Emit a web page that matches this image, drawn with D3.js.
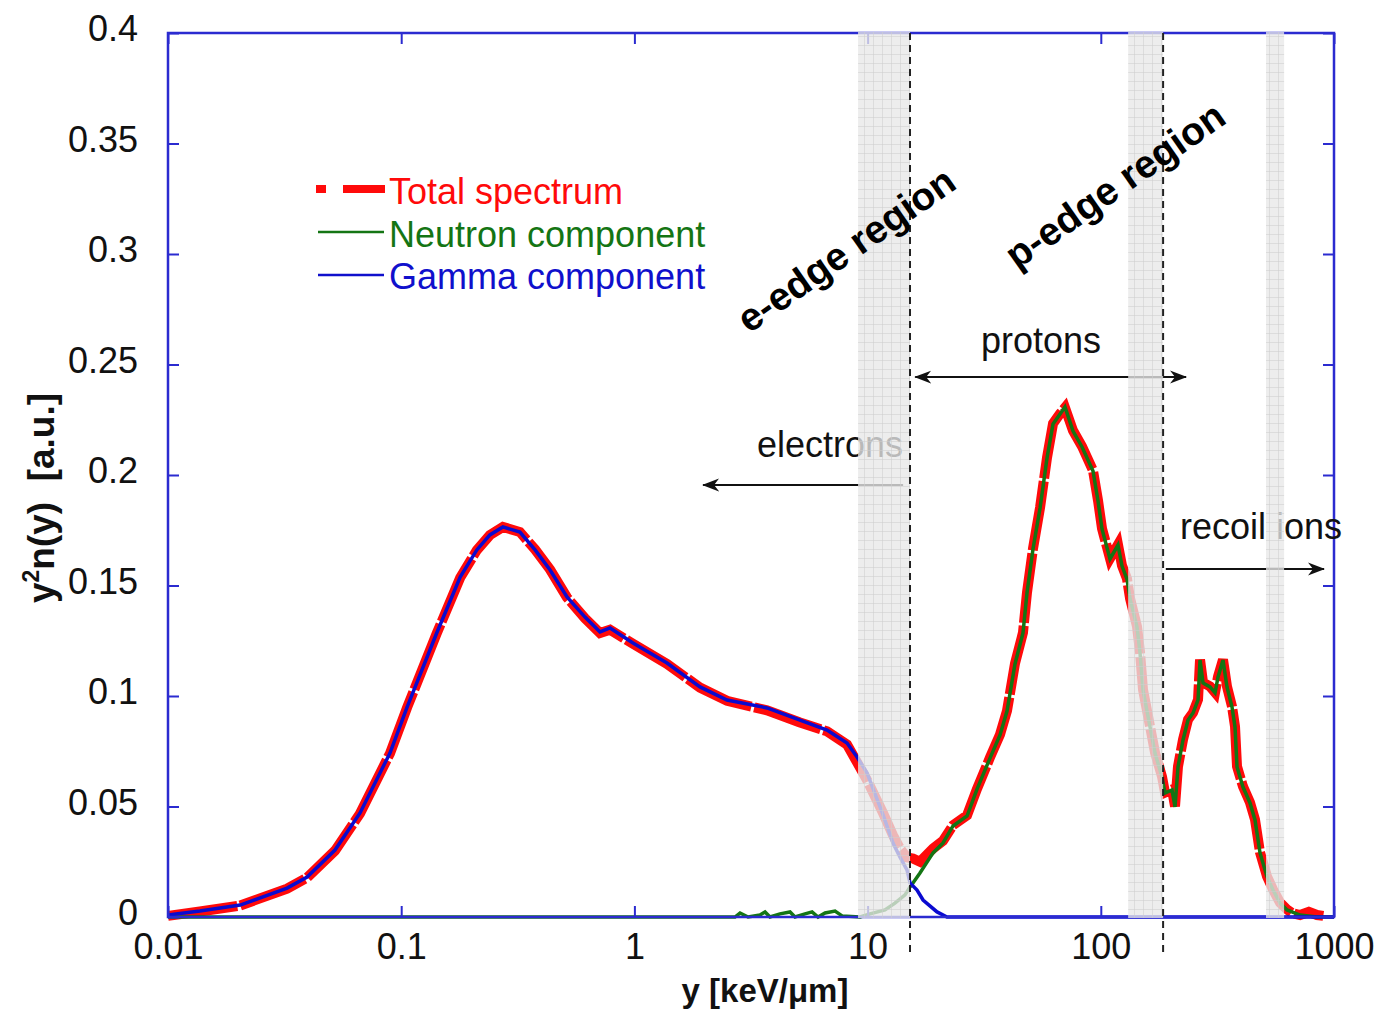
<!DOCTYPE html>
<html>
<head>
<meta charset="utf-8">
<script src="https://cdn.jsdelivr.net/npm/d3@7"></script>
<style>
  body { margin: 0; background: #ffffff; }
  svg { display: block; }
  text { font-family: "Liberation Sans", Arial, sans-serif; }
</style>
</head>
<body>
<svg id="chart" width="1379" height="1010"></svg>
<script>
// ---- axis ticks ----
const xTickValues = [0.01, 0.1, 1, 10, 100, 1000];
const xTickLabels = ["0.01", "0.1", "1", "10", "100", "1000"];
const yTickValues = [0, 0.05, 0.1, 0.15, 0.2, 0.25, 0.3, 0.35, 0.4];
const yTickLabels = ["0", "0.05", "0.1", "0.15", "0.2", "0.25", "0.3", "0.35", "0.4"];

// ---- gamma component: y [keV/um], y^2 n(y) ----
const gammaX = [0.01, 0.0137, 0.0204, 0.0324, 0.0395, 0.052, 0.0666, 0.0895, 0.106, 0.142,
  0.179, 0.211, 0.240, 0.273, 0.323, 0.375, 0.435, 0.514, 0.614, 0.712,
  0.786, 0.986, 1.38, 1.911, 2.496, 3.703, 5.13, 6.70, 8.16, 9.01,
  9.94, 11.65, 12.85, 13.77, 14.75, 15.20, 16.29, 17.29, 19.85, 21.9, 1000];
const gammaY = [0.0009, 0.0027, 0.0054, 0.0131, 0.0181, 0.0303, 0.0471, 0.0742, 0.0950, 0.1285,
  0.1538, 0.1661, 0.1729, 0.1765, 0.1742, 0.1661, 0.1570, 0.1448, 0.1357, 0.1290,
  0.1308, 0.1240, 0.1149, 0.1041, 0.0982, 0.0946, 0.0891, 0.0846, 0.0787, 0.0724,
  0.0652, 0.0462, 0.0335, 0.0271, 0.0213, 0.0154, 0.0122, 0.0077, 0.0023, 0, 0];

// ---- neutron component ----
const neutronX = [0.01, 2.70, 2.838, 3.071, 3.456, 3.632, 3.815, 4.21, 4.65, 4.884,
  5.39, 5.78, 6.13, 6.57, 7.25, 7.77, 9.28, 10.24, 11.87, 13.10,
  14.47, 15.20, 15.65, 16.77, 19.08, 21.06, 23.24, 26.70, 29.46, 33.49,
  36.97, 39.62, 42.86, 46.38, 48.25, 51.2, 54.9, 58.8, 62.4, 66.9,
  70.2, 76.0, 83.1, 92.6, 97.3, 101.2, 109.5, 118.5, 123.3, 129.5,
  133.5, 143.0, 147.3, 151.7, 162.6, 170.8, 183.0, 188.5, 202.0, 208.1,
  214.3, 225.2, 236.6, 248.6, 261.2, 266.4, 274.4, 294.0, 309.0, 318.2,
  334.2, 347.6, 365.3, 376.3, 383.8, 407.2, 436.3, 458.4, 481.7, 516.3,
  547.8, 587.0, 629.0, 715.0, 845.6, 1000];
const neutronY = [0, 0, 0.0018, 0, 0.0009, 0.0023, 0, 0.0014, 0.0023, 0,
  0.0014, 0.0023, 0, 0.0018, 0.0027, 0.0005, 0, 0.0014, 0.0032, 0.0063,
  0.0100, 0.0136, 0.0154, 0.0199, 0.0290, 0.0335, 0.0412, 0.0457, 0.0579, 0.0719,
  0.0824, 0.0932, 0.1145, 0.1285, 0.1466, 0.1665, 0.1851, 0.2077, 0.2231, 0.2276,
  0.2308, 0.2199, 0.2127, 0.2018, 0.1882, 0.1756, 0.1620, 0.1683, 0.1588, 0.1529,
  0.1439, 0.1312, 0.1195, 0.1027, 0.0860, 0.0742, 0.0633, 0.0561, 0.0575, 0.0498,
  0.0679, 0.0801, 0.0891, 0.0923, 0.0982, 0.1163, 0.1059, 0.1041, 0.1014, 0.1086,
  0.1163, 0.1041, 0.0950, 0.0860, 0.0679, 0.0588, 0.0516, 0.0439, 0.0290, 0.0181,
  0.0122, 0.0063, 0.0032, 0.0009, 0, 0];

// ---- total spectrum ----
const totalX = [0.01, 0.0137, 0.0204, 0.0324, 0.0395, 0.052, 0.0666, 0.0895, 0.106, 0.142,
  0.179, 0.211, 0.240, 0.273, 0.323, 0.375, 0.435, 0.514, 0.614, 0.712,
  0.786, 0.986, 1.38, 1.911, 2.496, 3.703, 5.13, 6.70, 8.16, 9.01,
  9.94, 11.65, 12.85, 13.77, 14.75, 15.65, 16.77, 19.08, 21.06, 23.24,
  26.70, 29.46, 33.49, 36.97, 39.62, 42.86, 46.38, 48.25, 51.2, 54.9,
  58.8, 62.4, 66.9, 70.2, 76.0, 83.1, 92.6, 97.3, 101.2, 109.5,
  118.5, 123.3, 129.5, 133.5, 143.0, 147.3, 151.7, 162.6, 170.8, 183.0,
  188.5, 202.0, 208.1, 214.3, 225.2, 236.6, 248.6, 261.2, 266.4, 274.4,
  294.0, 309.0, 318.2, 334.2, 347.6, 365.3, 376.3, 383.8, 407.2, 436.3,
  458.4, 481.7, 516.3, 547.8, 587.0, 629.0, 660.0, 715.0, 780.0, 845.6, 900.0];
const totalY = [0.0005, 0.0025, 0.0052, 0.0128, 0.0178, 0.0300, 0.0468, 0.0740, 0.0948, 0.1283,
  0.1535, 0.1660, 0.1728, 0.1765, 0.1742, 0.1663, 0.1572, 0.1446, 0.1352, 0.1285,
  0.1300, 0.1236, 0.1145, 0.1038, 0.0978, 0.0935, 0.0880, 0.0840, 0.0780, 0.0700,
  0.0620, 0.0470, 0.0370, 0.0310, 0.0270, 0.0265, 0.0250, 0.0310, 0.0345, 0.0415,
  0.0460, 0.0580, 0.0722, 0.0826, 0.0934, 0.1147, 0.1287, 0.1468, 0.1667, 0.1853,
  0.2079, 0.2233, 0.2278, 0.2305, 0.2201, 0.2129, 0.2020, 0.1884, 0.1758, 0.1622,
  0.1685, 0.1590, 0.1531, 0.1441, 0.1314, 0.1197, 0.1029, 0.0862, 0.0744, 0.0635,
  0.0563, 0.0577, 0.0500, 0.0681, 0.0803, 0.0893, 0.0925, 0.0984, 0.1165, 0.1061,
  0.1043, 0.1016, 0.1088, 0.1165, 0.1043, 0.0952, 0.0862, 0.0681, 0.0590, 0.0518,
  0.0441, 0.0292, 0.0183, 0.0124, 0.0065, 0.0034, 0.0018, 0.0009, 0.0023, 0.0009, 0.0005];

// ---- shaded edge bands and region boundaries ----
const bandLo = [9.1, 131, 511];
const bandHi = [15.2, 185, 611];
const boundaries = [15.2, 185];

const svg = d3.select("#chart");
const W = 1379, H = 1010;
const L = 168, R = 1334, T = 33, B = 917;

svg.append("rect").attr("width", W).attr("height", H).attr("fill", "#ffffff");

const x = d3.scaleLog().domain([0.01, 1000]).range([L, R]);
const y = d3.scaleLinear().domain([0, 0.4]).range([B, T]);

const axisColor = "#2b2bd0";

// defs: band texture and arrowheads
const defs = svg.append("defs");
const pat = defs.append("pattern").attr("id", "bandGrid")
  .attr("patternUnits", "userSpaceOnUse").attr("width", 9).attr("height", 9);
pat.append("rect").attr("width", 9).attr("height", 9).attr("fill", "rgba(232,232,232,0.78)");
pat.append("path").attr("d", "M0,0.5H9M0.5,0V9").attr("stroke", "rgba(205,205,205,0.55)").attr("stroke-width", 1);

defs.append("marker").attr("id", "arrow")
  .attr("viewBox", "0 -8 18 16").attr("refX", 16).attr("refY", 0)
  .attr("markerWidth", 18).attr("markerHeight", 16)
  .attr("markerUnits", "userSpaceOnUse").attr("orient", "auto-start-reverse")
  .append("path").attr("d", "M0,-6.5L17,0L0,6.5L5,0Z").attr("fill", "#111");

// ---- curves ----
const line = d3.line().x(d => x(d[0])).y(d => y(d[1]));
const zipPts = (xs, ys) => xs.map((v, i) => [v, ys[i]]);

svg.append("path").datum(zipPts(totalX, totalY))
  .attr("d", line).attr("fill", "none")
  .attr("stroke", "#ff0a0a").attr("stroke-width", 10)
  .attr("stroke-dasharray", "70,3").attr("stroke-linejoin", "miter");

svg.append("path").datum(zipPts(neutronX, neutronY))
  .attr("d", line).attr("fill", "none")
  .attr("stroke", "#147514").attr("stroke-width", 3.5);

svg.append("path").datum(zipPts(gammaX, gammaY))
  .attr("d", line).attr("fill", "none")
  .attr("stroke", "#0a0ad0").attr("stroke-width", 3.5);

// ---- axes (ticks point inward on all four sides) ----
const gx = svg.append("g").attr("transform", `translate(0,${B})`)
  .call(d3.axisBottom(x).tickValues(xTickValues).tickFormat((d, i) => xTickLabels[i])
    .tickSizeInner(-11).tickSizeOuter(0).tickPadding(20));
const gxt = svg.append("g").attr("transform", `translate(0,${T})`)
  .call(d3.axisTop(x).tickValues(xTickValues).tickFormat("").tickSizeInner(-11).tickSizeOuter(0));
const gy = svg.append("g").attr("transform", `translate(${L},0)`)
  .call(d3.axisLeft(y).tickValues(yTickValues).tickFormat((d, i) => yTickLabels[i])
    .tickSizeInner(-11).tickSizeOuter(0).tickPadding(30));
const gyr = svg.append("g").attr("transform", `translate(${R},0)`)
  .call(d3.axisRight(y).tickValues(yTickValues).tickFormat("").tickSizeInner(-11).tickSizeOuter(0));

[gx, gxt, gy, gyr].forEach(g => {
  g.select(".domain").remove();
  g.selectAll(".tick line").attr("stroke", axisColor).attr("stroke-width", 2);
});
gx.selectAll(".tick text").attr("font-size", 36).attr("fill", "#111").attr("dy", "0.62em");
gy.selectAll(".tick text").attr("font-size", 36).attr("fill", "#111").attr("dy", "0.22em");

svg.append("rect").attr("x", L).attr("y", T).attr("width", R - L).attr("height", B - T)
  .attr("fill", "none").attr("stroke", axisColor).attr("stroke-width", 2.5);

// ---- annotations: arrows and labels ----
const arrows = [
  { x1: 16.0, x2: 232, v: 0.2443, start: true, end: true },
  { x1: 14.2, x2: 1.97, v: 0.1955, start: false, end: true },
  { x1: 190, x2: 906, v: 0.1575, start: false, end: true }
];
arrows.forEach(a => {
  const l = svg.append("line")
    .attr("x1", x(a.x1)).attr("x2", x(a.x2)).attr("y1", y(a.v)).attr("y2", y(a.v))
    .attr("stroke", "#111").attr("stroke-width", 2);
  if (a.start) l.attr("marker-start", "url(#arrow)");
  if (a.end) l.attr("marker-end", "url(#arrow)");
});

svg.append("text").attr("x", 1041).attr("y", 353).attr("text-anchor", "middle")
  .attr("font-size", 36).attr("fill", "#111").text("protons");
svg.append("text").attr("x", 903).attr("y", 457).attr("text-anchor", "end")
  .attr("font-size", 36).attr("fill", "#111").text("electrons");
svg.append("text").attr("x", 1180).attr("y", 539).attr("text-anchor", "start")
  .attr("font-size", 36).attr("fill", "#111").text("recoil ions");

// ---- shaded edge bands (translucent, over the curves) ----
bandLo.forEach((lo, i) => {
  svg.append("rect").attr("x", x(lo)).attr("y", T - 1)
    .attr("width", x(bandHi[i]) - x(lo)).attr("height", B - T + 2)
    .attr("fill", "url(#bandGrid)");
});

// ---- dashed region boundaries ----
boundaries.forEach(b => {
  svg.append("line").attr("x1", x(b)).attr("x2", x(b)).attr("y1", T).attr("y2", 952)
    .attr("stroke", "#222").attr("stroke-width", 2).attr("stroke-dasharray", "7,5");
});

// ---- edge region labels ----
svg.append("text").attr("transform", "translate(749,334) rotate(-35)")
  .attr("font-family", "'DejaVu Sans', Verdana, sans-serif").attr("font-weight", "bold")
  .attr("font-size", 39).attr("fill", "#000").text("e-edge region");
svg.append("text").attr("transform", "translate(1017,270) rotate(-35)")
  .attr("font-family", "'DejaVu Sans', Verdana, sans-serif").attr("font-weight", "bold")
  .attr("font-size", 39).attr("fill", "#000").text("p-edge region");

// ---- legend ----
const legend = svg.append("g");
legend.append("line").attr("x1", 316).attr("x2", 385).attr("y1", 189).attr("y2", 189)
  .attr("stroke", "#ff0a0a").attr("stroke-width", 8).attr("stroke-dasharray", "10,17,42");
legend.append("line").attr("x1", 318).attr("x2", 384).attr("y1", 232).attr("y2", 232)
  .attr("stroke", "#147514").attr("stroke-width", 2.5);
legend.append("line").attr("x1", 318).attr("x2", 384).attr("y1", 275).attr("y2", 275)
  .attr("stroke", "#1010cc").attr("stroke-width", 2.5);
legend.append("text").attr("x", 389).attr("y", 204).attr("font-size", 36).attr("fill", "#ff0a0a").text("Total spectrum");
legend.append("text").attr("x", 389).attr("y", 247).attr("font-size", 36).attr("fill", "#147514").text("Neutron component");
legend.append("text").attr("x", 389).attr("y", 289).attr("font-size", 36).attr("fill", "#1010cc").text("Gamma component");

// ---- axis titles ----
svg.append("text").attr("x", 765).attr("y", 1002).attr("text-anchor", "middle")
  .attr("font-size", 33).attr("font-weight", "bold").attr("fill", "#111").text("y [keV/μm]");

const yt = svg.append("text").attr("transform", "translate(54,498) rotate(-90)")
  .attr("text-anchor", "middle").attr("font-size", 37).attr("font-weight", "bold")
  .attr("fill", "#111").style("white-space", "pre");
yt.append("tspan").text("y");
yt.append("tspan").attr("font-size", 23).attr("dy", -15).text("2");
yt.append("tspan").attr("dy", 15).text("n(y)  [a.u.]");
</script>
</body>
</html>
